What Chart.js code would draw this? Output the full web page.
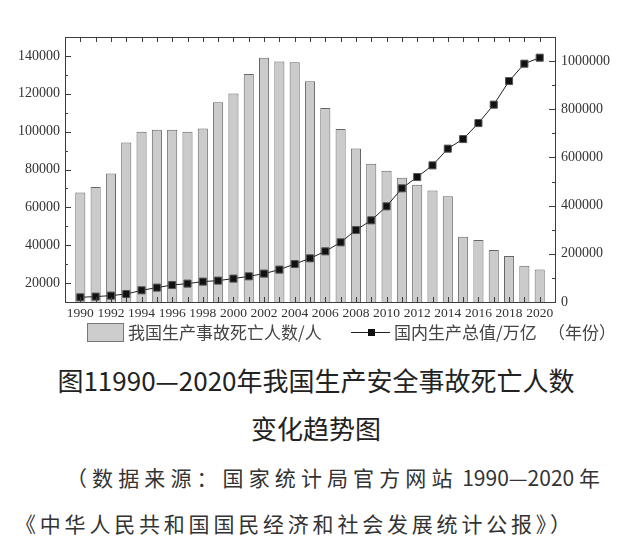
<!DOCTYPE html>
<html>
<head>
<meta charset="utf-8">
<script src="https://cdn.jsdelivr.net/npm/chart.js@4/dist/chart.umd.min.js"></script>
<style>
  html, body { margin: 0; padding: 0; background: #fff; }
  body { width: 624px; height: 551px; position: relative; overflow: hidden; }
  #wrap { position: absolute; left: 0; top: 0; width: 624px; height: 322px; }
  .t { position: absolute; white-space: nowrap; color: #222; font-family: "Noto Sans CJK SC", sans-serif; }
  .legend { font-size: 17px; color: #444; line-height: 20px; top: 322px; }
  .sw { position: absolute; left: 87px; top: 323px; width: 35px; height: 17px; background: #cdcdcd; border: 1px solid #777; }
  .ln { position: absolute; left: 351px; top: 332px; width: 39px; height: 1px; background: #222; }
  .pt { position: absolute; left: 368px; top: 329px; width: 7px; height: 7px; background: #111; }
  .sp { letter-spacing: 5.1px; }
</style>
</head>
<body>
<div id="wrap"><canvas id="deaths" width="624" height="322"></canvas></div>

<div class="sw"></div>
<div class="t legend" style="left:128px">我国生产事故死亡人数/人</div>
<div class="ln"></div><div class="pt"></div>
<div class="t legend" style="left:394px">国内生产总值/万亿</div>
<div class="t legend" style="left:548px">（年份）</div>

<div class="t" style="left:4px;width:624px;text-align:center;top:360px;font-size:26px;line-height:40px">图11990—2020年我国生产安全事故死亡人数</div>
<div class="t" style="left:4px;width:624px;text-align:center;top:408px;font-size:26px;line-height:40px">变化趋势图</div>
<div class="t" style="left:66px;top:462px;font-size:21px;line-height:30px;color:#333"><span class="sp">（数据来源：国家统计局官方网站</span> 1990—2020 年</div>
<div class="t" style="left:15px;top:508px;font-size:21px;line-height:30px;color:#333"><span class="sp" style="letter-spacing:3.8px">《中华人民共和国国民经济和社会发展统计公报》）</span></div>

<script>
// values
const years = [1990, 1991, 1992, 1993, 1994, 1995, 1996, 1997, 1998, 1999, 2000,
  2001, 2002, 2003, 2004, 2005, 2006, 2007, 2008, 2009, 2010,
  2011, 2012, 2013, 2014, 2015, 2016, 2017, 2018, 2019, 2020]
const deaths = [67800, 70800, 77900, 94300, 99900, 101000, 101000, 99900, 101700, 115500, 120100,
  130500, 139100, 137000, 136600, 126600, 112500, 101400, 91100, 83000, 79300,
  75600, 71900, 68900, 65900, 44500, 42800, 37500, 34300, 29200, 27200]
const gdp = [19500, 22400, 26500, 33200, 48500, 59700, 70500, 76300, 84600, 88800, 97100,
  106600, 117800, 134400, 157700, 181300, 210400, 247700, 298800, 339000, 397100,
  471800, 518700, 567200, 636500, 676300, 742700, 819100, 917000, 989200, 1014100]
const xLabels = [1990, 1992, 1994, 1996, 1998, 2000, 2002, 2004, 2006, 2008, 2010,
  2012, 2014, 2016, 2018, 2020]
const leftTicks = [20000, 40000, 60000, 80000, 100000, 120000, 140000]
const rightTicks = [0, 200000, 400000, 600000, 800000, 1000000]

const tickFont = {family: '"Liberation Serif", "DejaVu Serif", serif', size: 14}
const noGrid = {display: false, drawTicks: false}

// box round the plot with short inward ticks, like the original
const frame = {
  id: 'frame',
  afterDatasetsDraw(chart){
    const {ctx, chartArea: a, scales} = chart
    ctx.save()
    ctx.strokeStyle = '#3c3c3c'
    ctx.lineWidth = 1
    ctx.strokeRect(a.left + 0.5, a.top + 0.5, a.right - a.left, a.bottom - a.top)
    ctx.beginPath()
    years.forEach(v => {
      const px = Math.round(scales.x.getPixelForValue(v)) + 0.5
      ctx.moveTo(px, a.bottom); ctx.lineTo(px, a.bottom - 5)
      ctx.moveTo(px, a.top); ctx.lineTo(px, a.top + 5)
    })
    for (let v = 10000; v < 150000; v += 10000) {
      const py = Math.round(scales.y.getPixelForValue(v)) + 0.5
      const len = v % 20000 === 0 ? 6 : 3
      ctx.moveTo(a.left, py); ctx.lineTo(a.left + len, py)
    }
    for (let v = 0; v < 1100000; v += 100000) {
      const py = Math.round(scales.y1.getPixelForValue(v)) + 0.5
      const len = v % 200000 === 0 ? 6 : 3
      ctx.moveTo(a.right, py); ctx.lineTo(a.right - len, py)
    }
    ctx.stroke()
    ctx.restore()
  }
}

new Chart(document.querySelector('#deaths'), {
  type: 'bar',
  data: {
    datasets: [{
      type: 'line',
      label: '国内生产总值/万亿',
      data: years.map((y, i) => ({x: y, y: gdp[i]})),
      yAxisID: 'y1',
      borderColor: '#222',
      borderWidth: 1,
      pointStyle: 'rect',
      pointRadius: 5,
      pointBackgroundColor: '#111',
      pointBorderColor: '#555',
      pointBorderWidth: 1,
      order: 0
    }, {
      type: 'bar',
      label: '我国生产事故死亡人数/人',
      data: years.map((y, i) => ({x: y, y: deaths[i]})),
      yAxisID: 'y',
      backgroundColor: '#cbcbcb',
      borderColor: '#666',
      borderWidth: 1,
      barPercentage: 0.66,
      categoryPercentage: 1,
      order: 1
    }]
  },
  options: {
    responsive: false,
    animation: false,
    layout: {padding: {top: 37, left: 0, right: 0, bottom: 0}},
    plugins: {legend: {display: false}, tooltip: {enabled: false}},
    scales: {
      x: {
        type: 'linear', position: 'bottom', min: 1989, max: 2021, offset: false,
        grid: noGrid, border: {display: false},
        afterBuildTicks: s => { s.ticks = years.map(v => ({value: v})) },
        afterFit: s => { s.height = 20 },
        ticks: {
          autoSkip: false, maxRotation: 0, padding: 3, color: '#333',
          font: {family: tickFont.family, size: 13.5},
          callback: v => xLabels.includes(v) ? String(v) : ''
        }
      },
      y: {
        position: 'left', min: 10000, max: 150000,
        grid: noGrid, border: {display: false},
        afterBuildTicks: s => { s.ticks = leftTicks.map(v => ({value: v})) },
        afterFit: s => { s.width = 65 },
        ticks: {color: '#333', font: tickFont, padding: 5, callback: v => String(v)}
      },
      y1: {
        position: 'right', min: 0, max: 1100000,
        grid: noGrid, border: {display: false},
        afterBuildTicks: s => { s.ticks = rightTicks.map(v => ({value: v})) },
        afterFit: s => { s.width = 69 },
        ticks: {color: '#333', font: tickFont, padding: 6, callback: v => String(v)}
      }
    }
  },
  plugins: [frame]
})
</script>
</body>
